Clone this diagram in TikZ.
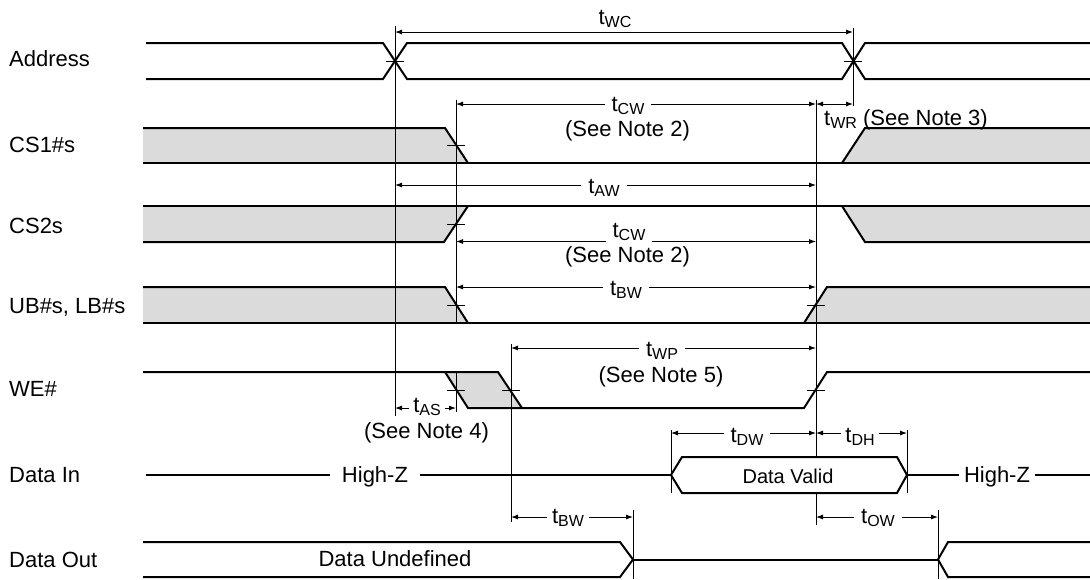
\documentclass[tikz,border=0pt]{standalone}
\usepackage{fontspec}
\setmainfont{Liberation Sans}
\usetikzlibrary{arrows.meta}
\newcommand{\tsig}[1]{t\raisebox{-3pt}{\fontsize{16}{16}\selectfont #1}}

\begin{document}
\begin{tikzpicture}[
  x=1pt,y=-1pt,
  sig/.style={line width=2pt, line join=miter},
  greyfill/.style={fill=black!14},
  guide/.style={line width=0.9pt},
  crossbar/.style={line width=0.9pt},
  dimarr/.style={{Latex[length=7pt,width=5pt]}-{Latex[length=7pt,width=5pt]}, line width=0.9pt},
  signame/.style={font=\fontsize{22}{26}\selectfont, anchor=base west, inner sep=0pt},
  lbl/.style={font=\fontsize{22}{26}\selectfont, anchor=base, fill=white, inner xsep=7pt, inner ysep=3pt},
  notetxt/.style={font=\fontsize{22}{26}\selectfont, anchor=base, inner sep=0pt}
]
\useasboundingbox (0,0) rectangle (1090,579);

% signal names
\node[signame] (address) at (9,66) {Address};
\node[signame] (cs1) at (9,152) {CS1\#s};
\node[signame] (cs2) at (9,233) {CS2s};
\node[signame] (ublb) at (9,313) {UB\#s, LB\#s};
\node[signame] (we) at (9,396) {WE\#};
\node[signame] (datain) at (9,482) {Data In};
\node[signame] (dataout) at (9,567) {Data Out};

% Address
\draw[sig] (146,43) -- (383,43) -- (407,79) -- (842,79) -- (865,43) -- (1090,43);
\draw[sig] (146,79) -- (383,79) -- (407,43) -- (842,43) -- (865,79) -- (1090,79);

% CS1#s
\fill[greyfill] (143,128) -- (445,128) -- (468,163) -- (143,163) -- cycle;
\fill[greyfill] (865,128) -- (1090,128) -- (1090,163) -- (842,163) -- cycle;
\draw[sig] (143,128) -- (445,128) -- (468,163);
\draw[sig] (842,163) -- (865,128) -- (1090,128);
\draw[sig] (143,163) -- (1090,163);

% CS2s
\fill[greyfill] (143,206) -- (468,206) -- (444,242) -- (143,242) -- cycle;
\fill[greyfill] (842,206) -- (1090,206) -- (1090,242) -- (865,242) -- cycle;
\draw[sig] (143,206) -- (1090,206);
\draw[sig] (143,242) -- (444,242) -- (468,206);
\draw[sig] (842,206) -- (865,242) -- (1090,242);

% UB#s, LB#s
\fill[greyfill] (143,287) -- (445,287) -- (468,323) -- (143,323) -- cycle;
\fill[greyfill] (804,323) -- (827,287) -- (1090,287) -- (1090,323) -- cycle;
\draw[sig] (143,287) -- (445,287) -- (468,323);
\draw[sig] (804,323) -- (827,287) -- (1090,287);
\draw[sig] (143,323) -- (1090,323);

% WE#
\fill[greyfill] (445,372) -- (498,372) -- (522,408) -- (468,408) -- cycle;
\draw[sig] (143,372) -- (498,372) -- (522,408);
\draw[sig] (445,372) -- (468,408) -- (804,408) -- (827,372) -- (1090,372);

% Data In
\draw[sig] (146,475) -- (671,475);
\draw[sig] (907,475) -- (1090,475);

% Data Out
\draw[sig] (143,542) -- (620,542) -- (633,559.5) -- (620,577) -- (143,577);
\draw[sig] (633,559.5) -- (938,559.5);
\draw[sig] (1090,542) -- (948,542) -- (938,559.5) -- (948,577) -- (1090,577);

% reference lines
\draw[guide] (395,26) -- (395,416); \draw[guide] (853,28) -- (853,106);
\draw[guide] (456,100) -- (456,323); \draw[guide] (456,372) -- (456,412);
\draw[guide] (511,344) -- (511,522); \draw[guide] (816,100) -- (816,525);
\draw[guide] (671,430) -- (671,493); \draw[guide] (907,430) -- (907,493);
\draw[guide] (633,510) -- (633,579); \draw[guide] (938,510) -- (938,579);

% crossing marks
\draw[crossbar] (386,61) -- (404,61); \draw[crossbar] (844,61) -- (862,61);
\draw[crossbar] (447,145) -- (465,145); \draw[crossbar] (447,224) -- (465,224);
\draw[crossbar] (447,305) -- (465,305); \draw[crossbar] (807,305) -- (825,305);
\draw[crossbar] (447,390) -- (465,390); \draw[crossbar] (502,390) -- (520,390);
\draw[crossbar] (807,390) -- (825,390);

% data valid window
\draw[sig, fill=white] (671,475) -- (682,457) -- (897,457) -- (907,475) -- (897,493) -- (682,493) -- cycle;
\node[font=\fontsize{20}{24}\selectfont, anchor=base, inner sep=0pt] (valid) at (788,483) {Data Valid};

% timing arrows
\draw[dimarr] (395,32) -- (853,32); \draw[dimarr] (456,104) -- (816,104); \draw[dimarr] (816,104) -- (853,104);
\draw[dimarr] (395,185) -- (816,185); \draw[dimarr] (456,241.5) -- (816,241.5); \draw[dimarr] (456,287) -- (816,287);
\draw[dimarr] (511,348) -- (816,348); \draw[dimarr] (395,408) -- (456,408);
\draw[dimarr] (671,433) -- (816,433); \draw[dimarr] (816,433) -- (907,433);
\draw[dimarr] (511,517) -- (633,517); \draw[dimarr] (816,517) -- (938,517);

% timing labels
\node[notetxt] (twc) at (615,24) {\tsig{WC}};
\node[lbl] (tcwa) at (628,111) {\tsig{CW}};
\node[notetxt] (notetwoa) at (627.5,136) {(See Note 2)};
\node[notetxt, anchor=base west] (twr) at (824,125) {\tsig{WR} (See Note 3)};
\node[lbl] (taw) at (604,193) {\tsig{AW}};
\node[lbl] (tcwb) at (629,237) {\tsig{CW}};
\node[notetxt] (notetwob) at (627.5,262) {(See Note 2)};
\node[lbl] (tbwa) at (626,295) {\tsig{BW}};
\node[lbl] (twp) at (662,356) {\tsig{WP}};
\node[notetxt] (notefive) at (661,382) {(See Note 5)};
\node[lbl, inner xsep=4pt] (tas) at (427,412) {\tsig{AS}};
\node[notetxt] (notefour) at (426.5,438) {(See Note 4)};
\node[lbl] (tdw) at (747,442) {\tsig{DW}};
\node[lbl, inner xsep=4pt] (tdh) at (860,442) {\tsig{DH}};
\node[lbl, inner xsep=5pt] (tbwb) at (568,523) {\tsig{BW}};
\node[lbl] (tow) at (878,523) {\tsig{OW}};
\node[lbl, inner xsep=12pt] (highza) at (375,482) {High-Z};
\node[lbl, inner xsep=5pt] (highzb) at (997,482) {High-Z};
\node[notetxt] (undefined) at (395,566) {Data Undefined};
\end{tikzpicture}
\end{document}
